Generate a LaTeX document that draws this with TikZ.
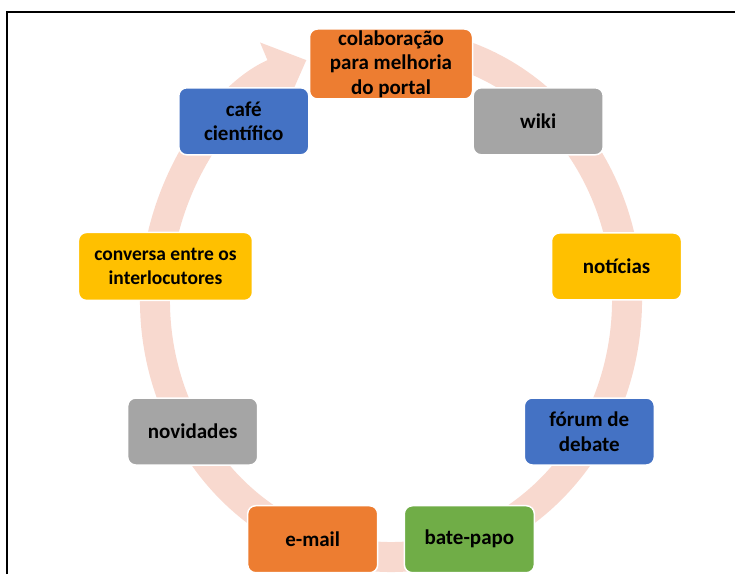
\documentclass[tikz,border=0pt]{standalone}
\usepackage{fontspec}
\setmainfont{Carlito}
\usepackage{tikz}
\usetikzlibrary{positioning,arrows.meta,calc}

\definecolor{ringpink}{HTML}{F8D9CF}
\definecolor{boxorange}{HTML}{ED7D31}
\definecolor{boxgray}{HTML}{A5A5A5}
\definecolor{boxgold}{HTML}{FFC000}
\definecolor{boxblue}{HTML}{4472C4}
\definecolor{boxgreen}{HTML}{70AD47}

\begin{document}
\begin{tikzpicture}[
    x=1pt, y=1pt,
    box/.style={
        rectangle,
        rounded corners=8pt,
        minimum width=130pt,
        minimum height=67pt,
        align=center,
        draw=white,
        line width=1.5pt,
        inner sep=1pt,
        font=\bfseries\fontsize{21}{24.5}\selectfont
    },
    ring/.style={
        -{Triangle[length=36pt,width=66pt]},
        line width=30pt,
        draw=ringpink
    },
    frame/.style={
        line width=2pt
    }
]
\useasboundingbox (0,0) rectangle (735,574);

% frame
\draw[frame] (6.7,0) -- (6.7,562) -- (735,562);

\coordinate (hub) at (391,265);
\coordinate (rc) at (391,274);

% cycle ring
\draw[ring] ($(rc)+(80:236 and 257)$) arc[start angle=80, end angle=-249, x radius=236, y radius=257];

\node[box,fill=boxorange,minimum width=163pt,minimum height=70pt] (colab) at ($(hub)+(90:229 and 245)$) {colaboração\\para melhoria\\do portal};
\node[box,fill=boxgray] (wiki) at ($(hub)+(50:229 and 245)$) {wiki};
\node[box,fill=boxgold] (news) at ($(hub)+(10:229 and 245)$) {notícias};
\node[box,fill=boxblue] (forum) at ($(hub)+(-30:229 and 245)$) {fórum de\\debate};
\node[box,fill=boxgreen] (chat) at ($(hub)+(-70:229 and 245)$) {bate-papo};
\node[box,fill=boxorange] (mail) at ($(hub)+(-110:229 and 245)$) {e-mail};
\node[box,fill=boxgray] (novid) at ($(hub)+(-150:229 and 245)$) {novidades};
\node[box,fill=boxgold,minimum width=174pt,minimum height=68pt,font=\bfseries\fontsize{19.5}{24.5}\selectfont] (conv) at ($(hub)+(170:229 and 245)$) {conversa entre os\\interlocutores};
\node[box,fill=boxblue] (cafe) at ($(hub)+(130:229 and 245)$) {café\\científico};

\end{tikzpicture}
\end{document}
